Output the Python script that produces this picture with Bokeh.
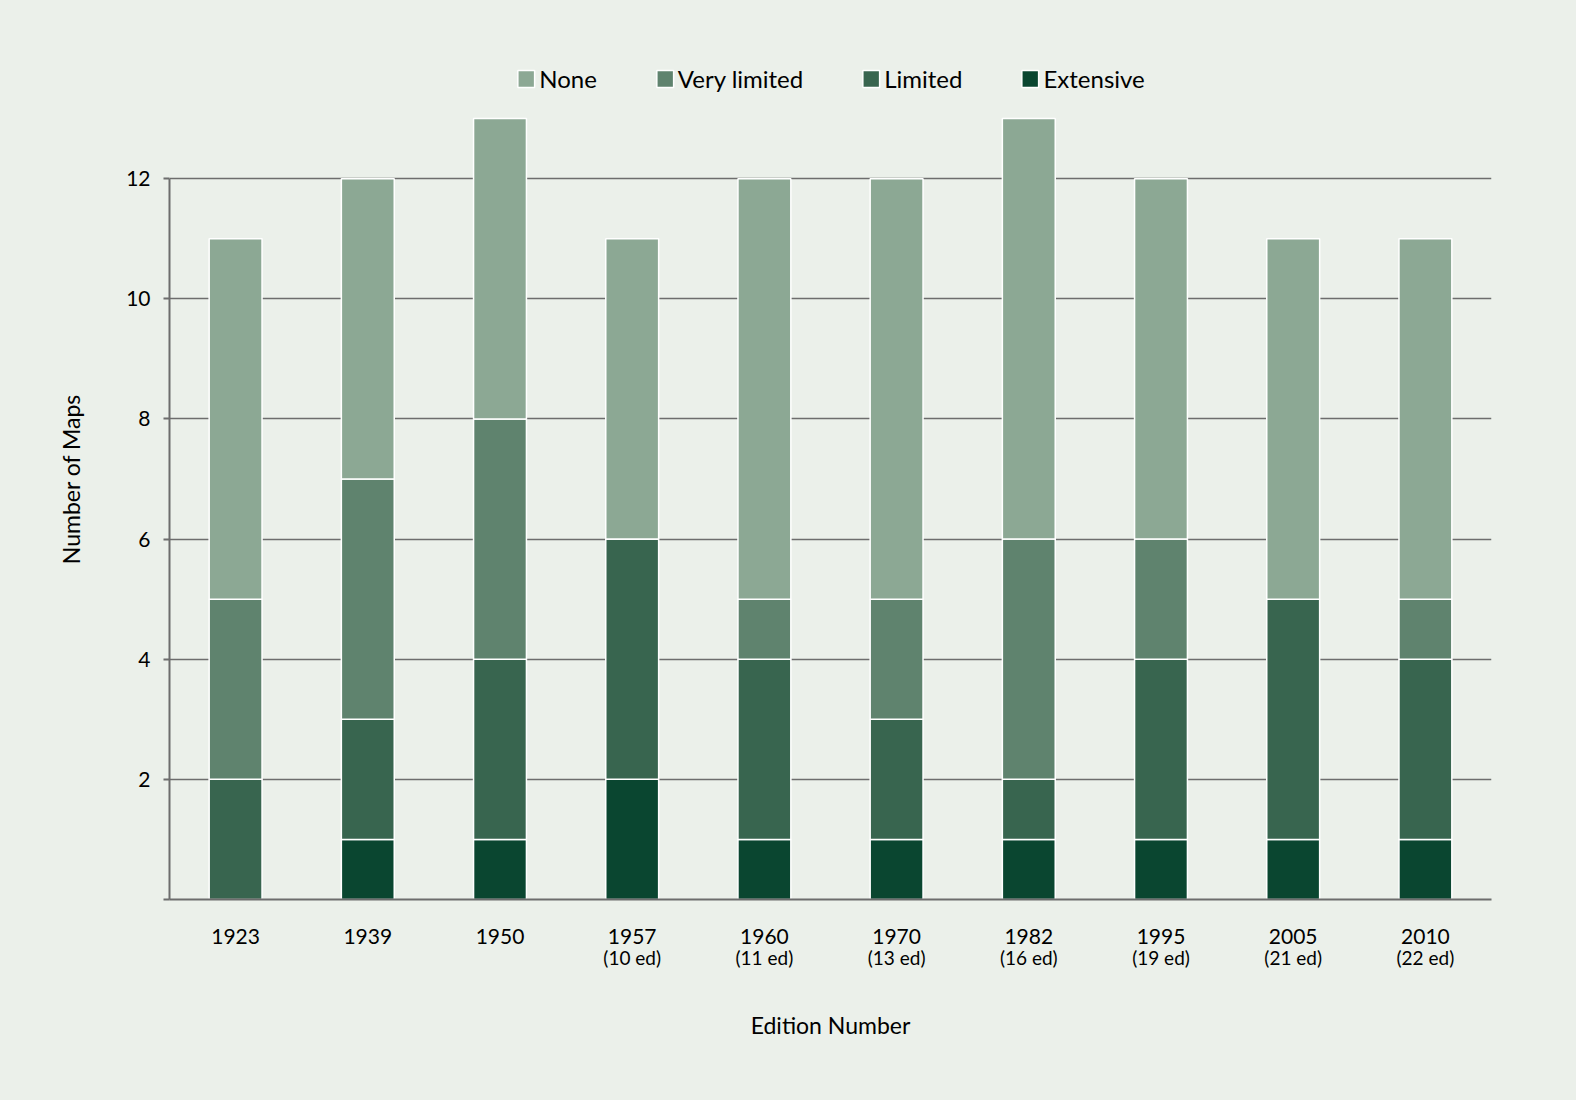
from bokeh.plotting import figure
from bokeh.models import (CategoricalAxis, FixedTicker, Legend, LegendItem, Range1d, FactorRange)
from bokeh.embed import file_html
from bokeh.resources import INLINE

years = ["1923", "1939", "1950", "1957", "1960", "1970", "1982", "1995", "2005", "2010"]
editions = ["", "", "", "(10 ed)", "(11 ed)", "(13 ed)", "(16 ed)", "(19 ed)", "(21 ed)", "(22 ed)"]
extensive = [0, 1, 1, 2, 1, 1, 1, 1, 1, 1]
limited = [2, 2, 3, 4, 3, 2, 1, 3, 4, 3]
very_limited = [3, 4, 4, 0, 1, 2, 4, 2, 0, 1]
none_ = [6, 5, 5, 5, 7, 7, 7, 6, 6, 6]
y_ticks = [0, 2, 4, 6, 8, 10, 12]

series = ["Extensive", "Limited", "Very limited", "None"]
colors = ["#0a4630", "#38654f", "#5f836e", "#8ca894"]

BG = "#ebf0ea"
GRID = "#6d6d6d"
FONT = "Lato"

data = {"years": years, "Extensive": extensive, "Limited": limited,
        "Very limited": very_limited, "None": none_}

p = figure(width=1560, height=1076, x_range=FactorRange(*years), y_range=Range1d(0, 14),
           output_backend="svg", toolbar_location=None,
           background_fill_color=BG, border_fill_color=BG,
           min_border_left=169, min_border_right=69, min_border_top=58, min_border_bottom=177)
p.outline_line_color = None

renderers = p.vbar_stack(series, x="years", width=0.4, source=data, color=colors,
                         line_color="white", line_width=1.5)

# x axis: years
p.xaxis.axis_line_color = GRID
p.xaxis.axis_line_width = 2
p.xaxis.major_tick_line_color = None
p.xaxis.minor_tick_line_color = None
p.xaxis.major_label_text_font = FONT
p.xaxis.major_label_text_font_size = "21px"
p.xaxis.major_label_text_color = "black"
p.xaxis.major_label_standoff = 23

# second x axis: edition numbers (blank entries made unique with spaces)
ed_factors = [e if e else " " * (i + 1) for i, e in enumerate(editions)]
p.extra_x_ranges = {"ed": FactorRange(*ed_factors)}
ax2 = CategoricalAxis(x_range_name="ed",
                      axis_line_color=None, major_tick_line_color=None, minor_tick_line_color=None,
                      major_label_text_font=FONT, major_label_text_font_size="19px",
                      major_label_text_color="black", major_label_standoff=-7,
                      axis_label="Edition Number", axis_label_text_font=FONT,
                      axis_label_text_font_size="23px", axis_label_text_font_style="normal",
                      axis_label_text_color="black", axis_label_standoff=39)
p.add_layout(ax2, "below")

# y axis
p.yaxis.ticker = FixedTicker(ticks=y_ticks)
p.yaxis.major_label_overrides = {0: ""}
p.yaxis.bounds = (0, 12)
p.yaxis.axis_line_color = GRID
p.yaxis.axis_line_width = 2
p.yaxis.major_tick_line_color = GRID
p.yaxis.major_tick_line_width = 2
p.yaxis.major_tick_out = 6
p.yaxis.major_tick_in = 0
p.yaxis.minor_tick_line_color = None
p.yaxis.major_label_text_font = FONT
p.yaxis.major_label_text_font_size = "21px"
p.yaxis.major_label_text_color = "black"
p.yaxis.major_label_standoff = 13
p.yaxis.axis_label = "Number of Maps"
p.yaxis.axis_label_text_font = FONT
p.yaxis.axis_label_text_font_size = "23px"
p.yaxis.axis_label_text_font_style = "normal"
p.yaxis.axis_label_text_color = "black"
p.yaxis.axis_label_standoff = 38

p.xgrid.grid_line_color = None
p.ygrid.ticker = FixedTicker(ticks=y_ticks[1:])
p.ygrid.grid_line_color = GRID
p.ygrid.grid_line_width = 1.5

items = [LegendItem(label=s, renderers=[r]) for s, r in zip(series, renderers)][::-1]
legend = Legend(items=items, orientation="horizontal", location="top_center",
                background_fill_alpha=0, border_line_color=None,
                label_text_font=FONT, label_text_font_size="24px", label_text_color="black",
                glyph_width=21, glyph_height=21, spacing=57, padding=0, margin=6,
                label_standoff=3)
p.add_layout(legend, "center")

html = file_html(p, INLINE)
html = html.replace("<body>", '<body style="background:%s">' % BG)
open("out.html", "w").write(html)
